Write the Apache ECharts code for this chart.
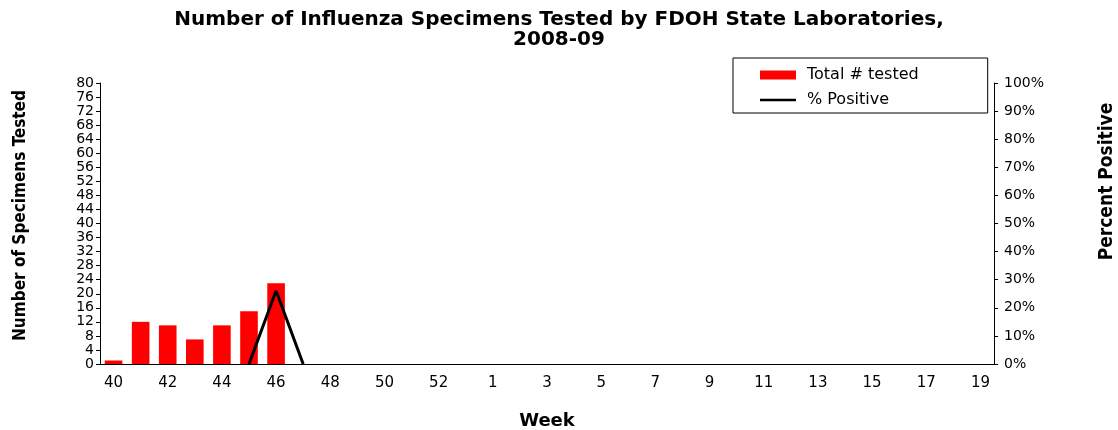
<!DOCTYPE html>
<html>
<head>
<meta charset="utf-8">
<script src="https://cdn.jsdelivr.net/npm/echarts@6/dist/echarts.min.js"></script>
<style>
  html, body { margin: 0; padding: 0; background: #fff; }
  #chart { width: 1118px; height: 430px; }
</style>
</head>
<body>
<div id="chart"></div>
<script>
// week labels, MMWR season 2008-09 (2008 has a week 53)
var weeks = ['40','41','42','43','44','45','46','47','48','49','50','51','52','53',
  '1','2','3','4','5','6','7','8','9','10','11','12','13','14','15','16','17','18','19'];
// total # tested per week
var totalTested = [1, 12, 11, 7, 11, 15, 23, null, null, null, null, null, null, null,
  null, null, null, null, null, null, null, null, null, null, null, null, null, null, null, null, null, null, null];
// % positive per week
var pctPositive = [null, null, null, null, null, 0, 26.1, 0, null, null, null, null, null, null,
  null, null, null, null, null, null, null, null, null, null, null, null, null, null, null, null, null, null, null];

var chart = echarts.init(document.getElementById('chart'));
var wide = '"DejaVu Sans", Arial, sans-serif';
var narrow = '"Liberation Sans Narrow", "DejaVu Sans Condensed", "Liberation Sans", sans-serif';

var option = {
  animation: false,
  title: {
    text: 'Number of Influenza Specimens Tested by FDOH State Laboratories,\n2008-09',
    left: 'center',
    top: 5,
    textStyle: { fontFamily: wide, fontSize: 20, fontWeight: 'bold', color: '#000', lineHeight: 20 }
  },
  legend: {
    orient: 'vertical',
    left: 733,
    top: 58,
    padding: [9, 69, 5, 27],
    itemGap: 9,
    itemWidth: 36,
    itemHeight: 9,
    borderColor: '#000',
    borderWidth: 1,
    textStyle: { fontFamily: wide, fontSize: 16, color: '#000', padding: [0, 0, 0, 6] },
    data: [
      { name: 'Total # tested', icon: 'rect' },
      { name: '% Positive', icon: 'path://M0,0H36V2.5H0Z', itemStyle: { color: '#000' } }
    ]
  },
  grid: { left: 100, right: 124, top: 83, bottom: 66, outerBoundsMode: 'none' },
  xAxis: {
    type: 'category',
    data: weeks,
    name: 'Week',
    nameLocation: 'middle',
    nameGap: 48,
    nameTextStyle: { fontFamily: wide, fontSize: 18, fontWeight: 'bold', color: '#000' },
    axisLine: { lineStyle: { color: '#000' } },
    axisTick: { interval: 0, length: 4, lineStyle: { color: '#000' } },
    axisLabel: { interval: 1, margin: 12, fontFamily: wide, fontSize: 15, color: '#000' }
  },
  yAxis: [
    {
      type: 'value',
      min: 0,
      max: 80,
      interval: 4,
      name: 'Number of Specimens Tested',
      nameLocation: 'middle',
      nameRotate: 90,
      nameGap: 71,
      nameTextStyle: { fontFamily: narrow, fontSize: 17, fontWeight: 'bold', color: '#000', padding: [0, 0, 0, 16] },
      axisLine: { show: true, lineStyle: { color: '#000' } },
      axisTick: { show: true, length: 4, lineStyle: { color: '#000' } },
      axisLabel: { margin: 6, fontFamily: wide, fontSize: 14, color: '#000', showMinLabel: true, showMaxLabel: true, hideOverlap: false },
      splitLine: { show: false }
    },
    {
      type: 'value',
      min: 0,
      max: 100,
      interval: 10,
      position: 'right',
      name: 'Percent Positive',
      nameLocation: 'middle',
      nameRotate: 90,
      nameGap: 104,
      nameTextStyle: { fontFamily: narrow, fontSize: 19, fontWeight: 'bold', color: '#000', padding: [0, 0, 0, 84] },
      axisLine: { show: true, lineStyle: { color: '#000' } },
      axisTick: { show: true, length: 4, lineStyle: { color: '#000' } },
      axisLabel: { margin: 10, fontFamily: wide, fontSize: 14, color: '#000', formatter: '{value}%', showMinLabel: true, showMaxLabel: true },
      splitLine: { show: false }
    }
  ],
  series: [
    {
      name: 'Total # tested',
      type: 'bar',
      data: totalTested,
      barWidth: '65%',
      itemStyle: { color: '#ff0000' }
    },
    {
      name: '% Positive',
      type: 'line',
      yAxisIndex: 1,
      data: pctPositive,
      symbol: 'none',
      lineStyle: { color: '#000', width: 3 },
      itemStyle: { color: '#000' }
    }
  ]
};

chart.setOption(option);
</script>
</body>
</html>
